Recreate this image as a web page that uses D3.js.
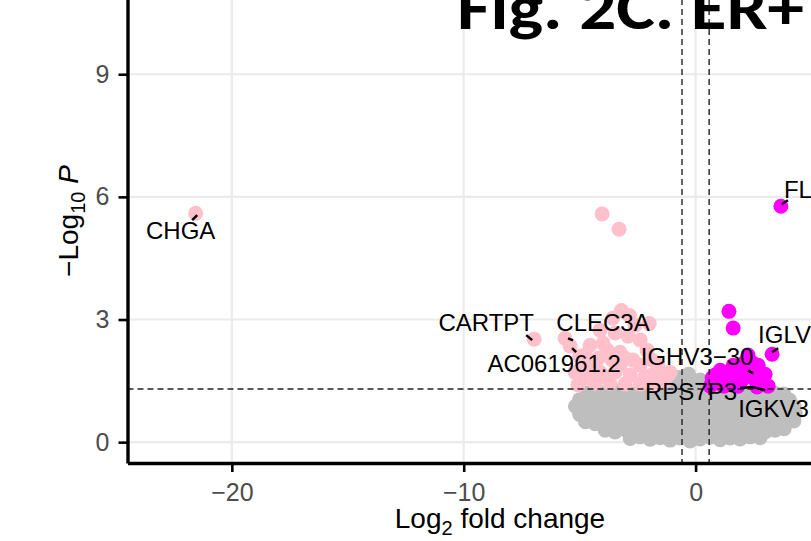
<!DOCTYPE html>
<html>
<head>
<meta charset="utf-8">
<script src="https://cdn.jsdelivr.net/npm/d3@7"></script>
<style>
  body { margin: 0; background: #fff; }
  svg { display: block; }
</style>
</head>
<body>
<div class="chart"></div>
<script>
// Values: [log2 fold change, -log10 P]
const nsPoints = [
  [-2.82,0.09],[-2.40,0.13],[-1.96,0.07],[-1.53,0.11],[-1.10,0.05],[-0.67,0.10],[-0.24,0.03],[0.19,0.08],[0.62,0.12],[1.06,0.06],[1.49,0.10],[1.92,0.08],[2.35,0.13],[2.78,0.11],
  [-3.90,0.29],[-3.47,0.25],[-3.04,0.31],[-2.61,0.27],[-2.18,0.24],[-1.75,0.30],[-1.32,0.26],[-0.88,0.22],[-0.45,0.28],[-0.02,0.25],[0.41,0.30],[0.84,0.26],[1.27,0.23],[1.70,0.29],[2.13,0.27],[2.57,0.31],[3.00,0.25],[3.43,0.29],[3.82,0.33],
  [-4.75,0.50],[-4.33,0.45],[-3.90,0.48],[-3.47,0.44],[-3.04,0.47],[-2.61,0.43],[-2.18,0.49],[-1.75,0.46],[-1.32,0.42],[-0.88,0.48],[-0.45,0.45],[-0.02,0.47],[0.41,0.44],[0.84,0.49],[1.27,0.45],[1.70,0.47],[2.13,0.43],[2.57,0.48],[3.00,0.46],[3.43,0.44],[3.86,0.49],[4.24,0.52],
  [-5.00,0.68],[-4.55,0.64],[-4.12,0.69],[-3.69,0.65],[-3.26,0.62],[-2.83,0.67],[-2.39,0.64],[-1.96,0.69],[-1.53,0.66],[-1.10,0.63],[-0.67,0.68],[-0.24,0.65],[0.19,0.62],[0.62,0.67],[1.06,0.64],[1.49,0.69],[1.92,0.66],[2.35,0.63],[2.78,0.68],[3.21,0.65],[3.64,0.62],[4.08,0.67],[4.30,0.70],
  [-5.18,0.88],[-4.77,0.84],[-4.33,0.87],[-3.90,0.83],[-3.47,0.89],[-3.04,0.86],[-2.61,0.82],[-2.18,0.88],[-1.75,0.85],[-1.32,0.87],[-0.88,0.83],[-0.45,0.89],[-0.02,0.86],[0.41,0.84],[0.84,0.88],[1.27,0.85],[1.70,0.82],[2.13,0.87],[2.57,0.84],[3.00,0.89],[3.43,0.86],[3.86,0.83],[4.25,0.87],
  [-5.00,1.04],[-4.55,1.08],[-4.12,1.03],[-3.69,1.07],[-3.26,1.05],[-2.83,1.02],[-2.39,1.08],[-1.96,1.04],[-1.53,1.06],[-1.10,1.03],[-0.67,1.09],[-0.24,1.05],[0.19,1.02],[0.62,1.07],[1.06,1.04],[1.49,1.08],[1.92,1.05],[2.35,1.02],[2.78,1.07],[3.21,1.04],[3.64,1.06],[4.05,1.03],
  [-4.65,1.20],[-4.20,1.24],[-3.80,1.21],[-3.35,1.25],[-2.90,1.22],[-2.45,1.19],[-2.00,1.24],[-1.55,1.21],[-1.10,1.26],[-0.65,1.23],[-0.20,1.27],[0.25,1.22],[0.70,1.25],[1.15,1.20],[1.60,1.24],[2.05,1.21],[2.50,1.26],[2.95,1.23],[3.40,1.20],[3.80,1.18],
  [-0.75,1.58],[-0.30,1.66],[0.20,1.52],[-0.50,1.42],[0.05,1.40],[-0.95,1.36],[0.45,1.34]
];

const downPoints = [
  [-21.56,5.60],[-4.03,5.58],[-3.30,5.21],
  [-6.96,2.52],[-5.63,2.54],[-5.41,2.35],
  [-3.20,3.22],[-2.85,3.10],[-2.00,2.90],[-2.61,2.86],[-3.58,3.03],[-4.12,2.74],
  [-4.55,2.37],[-3.99,2.42],[-3.47,2.67],[-2.91,2.59],[-2.39,2.50],[-3.26,2.20],[-3.82,2.25],[-2.09,2.25],
  [-5.00,2.10],[-4.77,2.13],[-4.20,2.05],[-3.60,2.01],[-3.04,2.05],[-2.70,2.01],[-2.39,1.88],[-1.88,2.01],
  [-4.46,1.88],[-3.26,1.88],[-1.62,1.88],[-5.20,1.71],
  [-4.77,1.81],[-4.12,1.71],[-3.47,1.71],[-2.82,1.64],[-2.18,1.59],[-1.88,1.64],[-1.53,1.71],[-1.19,1.64],[-1.10,1.71],
  [-4.64,1.57],[-3.82,1.59],
  [-5.07,1.40],[-4.98,1.52],[-4.33,1.44],[-3.69,1.44],[-3.04,1.42],[-2.39,1.42],[-1.75,1.42],[-1.36,1.47]
];

const upPoints = [
  [3.68,5.77],[1.44,3.20],[1.62,2.79],[3.30,2.15],
  [2.26,2.13],[2.48,1.93],[2.13,1.96],[2.70,1.88],[1.62,1.88],
  [0.71,1.57],[1.06,1.76],[0.84,1.64],[1.27,1.71],[1.79,1.76],[2.13,1.64],[2.78,1.71],[3.00,1.66],[2.61,1.61],
  [0.97,1.44],[1.49,1.49],[2.01,1.52],[2.57,1.52],[3.00,1.44],
  [0.63,1.37],[1.23,1.37],[1.83,1.37],[2.65,1.35],[3.13,1.37]
];

const labelGenes = ["CHGA", "CARTPT", "CLEC3A", "AC061961.2", "IGHV3\u221230", "RPS7P3", "IGKV3", "IGLV", "FL"];
const labelFC    = [-21.56, -6.96, -5.63, -5.41, 2.61, 2.65, 3.13, 3.30, 3.68];
const labelP     = [5.60, 2.52, 2.54, 2.35, 1.61, 1.35, 1.37, 2.15, 5.77];

const xTicks = [-20, -10, 0];
const yTicks = [0, 3, 6, 9];
const fcCut = 0.585;
const pCut = 1.301;

// label placement (pixels relative to the point) as ggrepel put them
const labelLayout = {
  "CHGA":        { dx: -15, dy: 26, anchor: "middle", seg: [-3.5, 7, 1.5, 2] },
  "CARTPT":      { dx: -48, dy: -8, anchor: "middle", seg: [-8, -4, -2, 1] },
  "CLEC3A":      { dx: 38,  dy: -7, anchor: "middle", seg: [3, 0, 8, 2] },
  "AC061961.2":  { dx: -16, dy: 26, anchor: "middle", seg: [2, 2, 6, 6] },
  "IGHV3\u221230": { dx: -59, dy: -11, anchor: "middle", seg: [-8, -6, -3, -3] },
  "RPS7P3":      { dx: -66, dy: 13, anchor: "middle", seg: [-17, 1, -4, 0] },
  "IGKV3":       { dx: -30, dy: 31, anchor: "start", seg: [-15, 1, -3, 4] },
  "IGLV":        { dx: -14, dy: -11, anchor: "start", seg: [0, -2, 6, -6] },
  "FL":          { dx: 3,   dy: -8, anchor: "start", seg: [1, -2, 7, -6] }
};

let svgWidth = 811;
let svgHeight = 541;
let margin = {top: -21, left: 127.5};
let width = 745;
let height = 484;

let svg = d3.select(".chart").append("svg")
  .attr("width", svgWidth).attr("height", svgHeight);

let x = d3.scaleLinear().domain([-24.5, 7.63]).range([margin.left, margin.left + width]);
let y = d3.scaleLinear().domain([-0.51, 11.33]).range([margin.top + height, margin.top]);

const sans = "'Liberation Sans', Arial, Helvetica, sans-serif";

// grid
svg.append("g").selectAll("line").data(xTicks).enter().append("line")
  .attr("x1", d => x(d)).attr("x2", d => x(d))
  .attr("y1", margin.top).attr("y2", margin.top + height)
  .attr("stroke", "#ebebeb").attr("stroke-width", 2.2);
svg.append("g").selectAll("line").data(yTicks).enter().append("line")
  .attr("x1", margin.left).attr("x2", margin.left + width)
  .attr("y1", d => y(d)).attr("y2", d => y(d))
  .attr("stroke", "#ebebeb").attr("stroke-width", 2.2);

// points
function drawPoints(data, colour) {
  svg.append("g").selectAll("circle").data(data).enter().append("circle")
    .attr("cx", d => x(d[0]))
    .attr("cy", d => y(d[1]))
    .attr("r", 7.5)
    .attr("fill", colour);
}
drawPoints(nsPoints, "#bebebe");
drawPoints(downPoints, "#ffc0cb");
drawPoints(upPoints, "#ff00ff");

// cutoff lines
[-fcCut, fcCut].forEach(v => {
  svg.append("line")
    .attr("x1", x(v)).attr("x2", x(v))
    .attr("y1", margin.top).attr("y2", margin.top + height)
    .attr("stroke", "#222").attr("stroke-width", 1.4).attr("stroke-dasharray", "6,4");
});
svg.append("line")
  .attr("x1", margin.left).attr("x2", margin.left + width)
  .attr("y1", y(pCut)).attr("y2", y(pCut))
  .attr("stroke", "#222").attr("stroke-width", 1.4).attr("stroke-dasharray", "6,4");

// labels with connectors
labelGenes.forEach((g, i) => {
  let px = x(labelFC[i]), py = y(labelP[i]);
  let L = labelLayout[g];
  svg.append("line")
    .attr("x1", px + L.seg[0]).attr("y1", py + L.seg[1])
    .attr("x2", px + L.seg[2]).attr("y2", py + L.seg[3])
    .attr("stroke", "black").attr("stroke-width", 2.5);
  svg.append("text")
    .attr("x", px + L.dx).attr("y", py + L.dy)
    .attr("text-anchor", L.anchor)
    .style("font-family", sans).style("font-size", "24px")
    .attr("fill", "black")
    .text(g);
});

// axes
let leftAxis = d3.axisLeft(y).tickValues(yTicks).tickSize(9).tickSizeOuter(0).tickPadding(9);
let bottomAxis = d3.axisBottom(x).tickValues(xTicks).tickSize(9).tickSizeOuter(0).tickPadding(11);

let gy = svg.append("g").attr("transform", `translate(${margin.left},0)`).call(leftAxis);
let gx = svg.append("g").attr("transform", `translate(0,${margin.top + height})`).call(bottomAxis);
[gx, gy].forEach(g => {
  g.select(".domain").attr("stroke", "black").attr("stroke-width", 3.4);
  g.selectAll(".tick line").attr("stroke", "black").attr("stroke-width", 2.6);
  g.selectAll(".tick text").attr("fill", "#4d4d4d")
    .style("font-family", sans).style("font-size", "25px");
});

// axis titles
let xt = svg.append("text")
  .attr("x", margin.left + width / 2).attr("y", 528)
  .attr("text-anchor", "middle")
  .style("font-family", sans).style("font-size", "28px").attr("fill", "black");
xt.append("tspan").text("Log");
xt.append("tspan").attr("dy", 7).style("font-size", "20px").text("2");
xt.append("tspan").attr("dy", -7).text(" fold change");

let yt = svg.append("text")
  .attr("transform", `translate(78,${margin.top + height / 2}) rotate(-90)`)
  .attr("text-anchor", "middle")
  .style("font-family", sans).style("font-size", "28px").attr("fill", "black");
yt.append("tspan").text("\u2212Log");
yt.append("tspan").attr("dy", 7).style("font-size", "20px").text("10");
yt.append("tspan").attr("dy", -7).text(" ");
yt.append("tspan").style("font-style", "italic").text("P");

// chart title (cropped at the top of the picture, as in the reference)
svg.append("text")
  .attr("x", 457).attr("y", 29)
  .attr("textLength", 347).attr("lengthAdjust", "spacingAndGlyphs")
  .style("font-family", "Carlito, Lato, 'Open Sans', sans-serif")
  .style("font-weight", "bold").style("font-size", "63px")
  .attr("fill", "black")
  .text("Fig. 2C. ER+");
</script>
</body>
</html>
